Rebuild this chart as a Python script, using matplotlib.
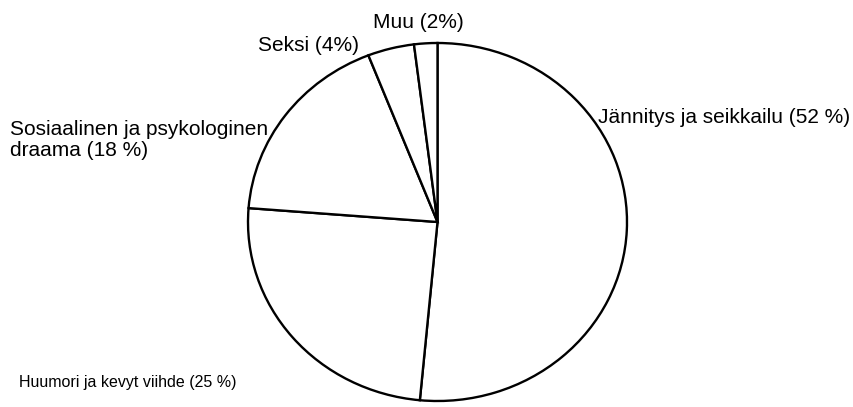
import matplotlib
matplotlib.use("Agg")
import matplotlib.pyplot as plt

# Data
categories = ["Jännitys ja seikkailu", "Huumori ja kevyt viihde",
              "Sosiaalinen ja psykologinen\ndraama", "Seksi", "Muu"]
values = [52, 25, 18, 4, 2]
label_texts = ["Jännitys ja seikkailu (52 %)", "Huumori ja kevyt viihde (25 %)",
               "Sosiaalinen ja psykologinen\ndraama (18 %)", "Seksi (4%)", "Muu (2%)"]

W, H = 854, 407
fig = plt.figure(figsize=(W / 100, H / 100), dpi=100)
ax = fig.add_axes([0, 0, 1, 1])

wedges, _ = ax.pie(values, startangle=90, counterclock=False,
                   colors=["white"] * len(values),
                   wedgeprops=dict(edgecolor="black", linewidth=1.7))
for w in wedges:
    w.set_joinstyle("miter")

# pie geometry in pixels (slightly elliptical scan)
cx, cy, rx, ry = 437.5, 222.0, 189.5, 179.0
ax.set_aspect("auto")
ax.set_xlim(-cx / rx, (W - cx) / rx)
ax.set_ylim(-(H - cy) / ry, cy / ry)
ax.axis("off")

font = dict(family=["Liberation Sans", "DejaVu Sans"], fontsize=15, color="black")

def px(x, y):
    return x / W, 1 - y / H

# label positions (pixel coords of left / last-line baseline)
label_pos = [(598, 123), (19, 387), (10, 156), (258, 51), (373, 28)]
for i, (txt, (x, y)) in enumerate(zip(label_texts, label_pos)):
    kw = dict(font)
    if i == 1:
        kw["fontsize"] = 11.5
    fig.text(*px(x, y), txt, ha="left", va="baseline", linespacing=1.15, **kw)

fig.savefig("out.png", dpi=100)
